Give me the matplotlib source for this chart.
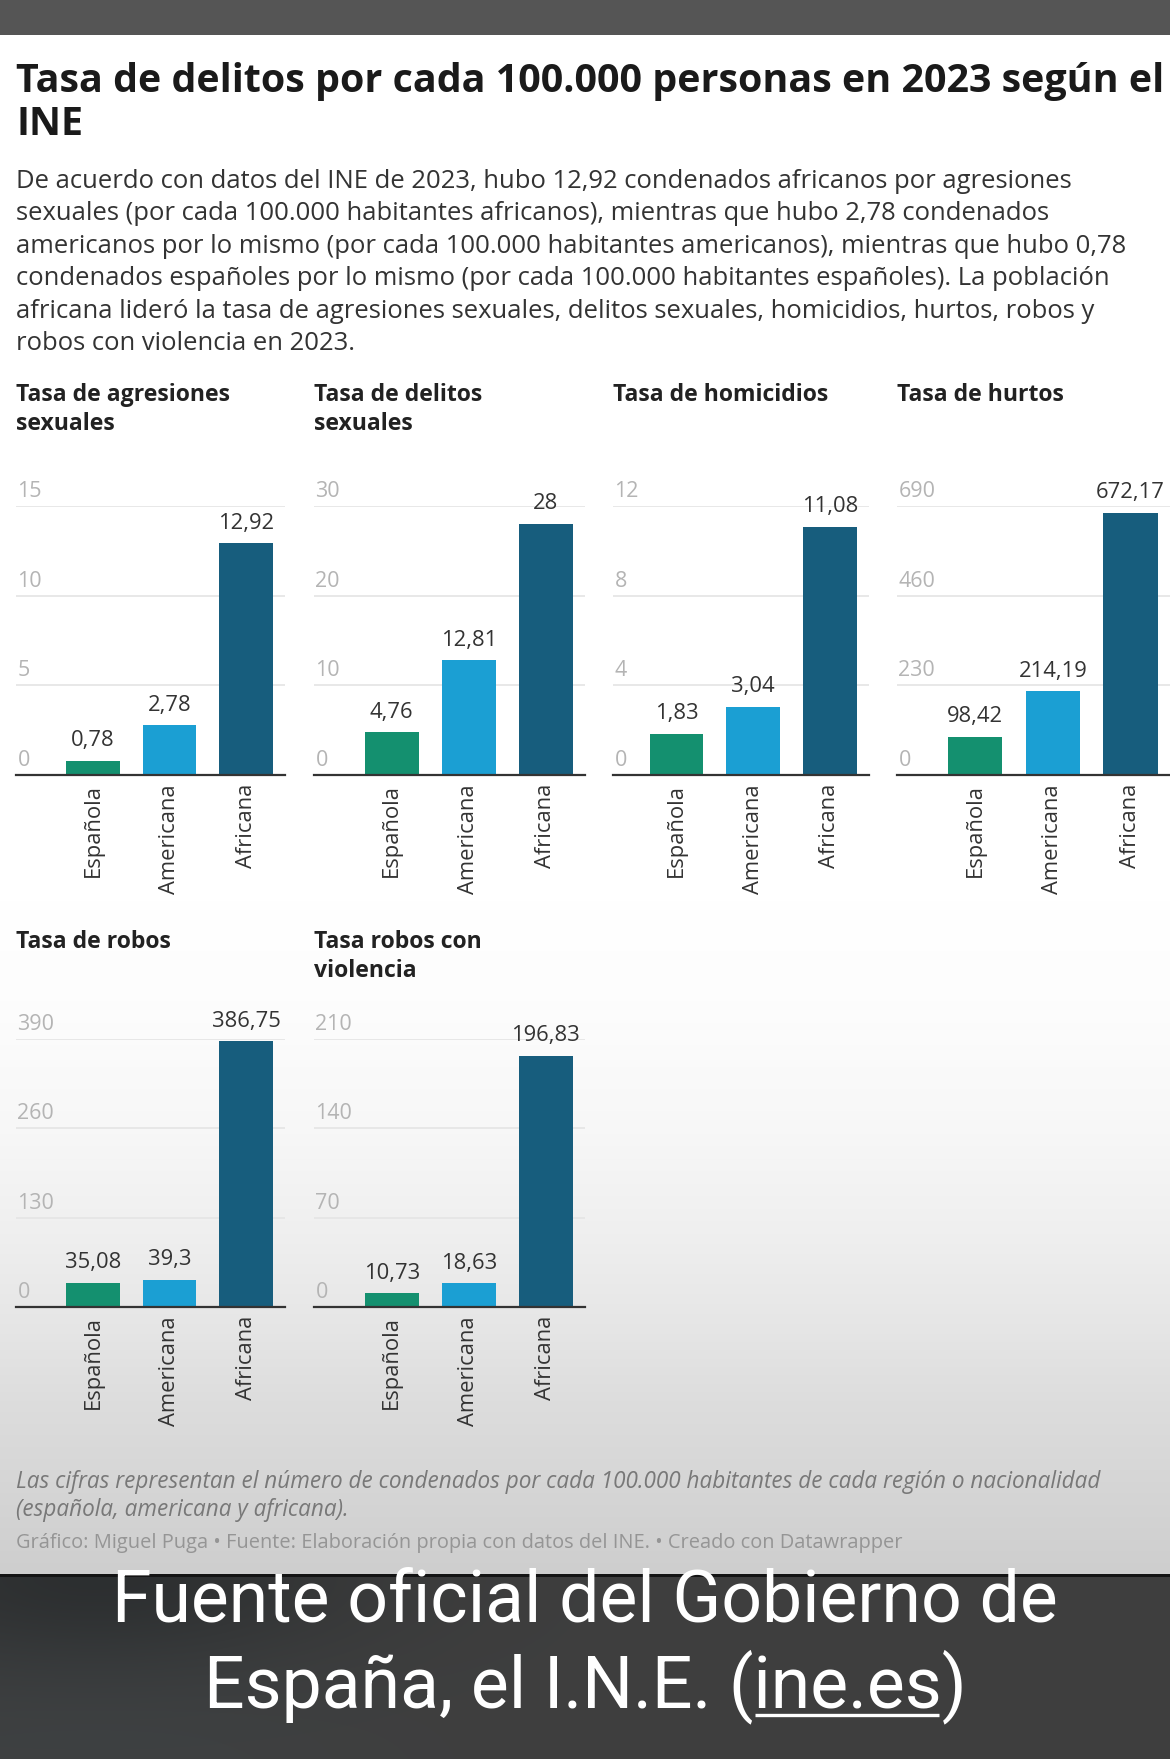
import numpy as np
import matplotlib
matplotlib.use("Agg")
import matplotlib.pyplot as plt

# ---------------------------------------------------------------------------
# Data
# ---------------------------------------------------------------------------

categories = ["Española", "Americana", "Africana"]

agresiones_sexuales = [0.78, 2.78, 12.92]
delitos_sexuales = [4.76, 12.81, 28]
homicidios = [1.83, 3.04, 11.08]
hurtos = [98.42, 214.19, 672.17]
robos = [35.08, 39.3, 386.75]
robos_violencia = [10.73, 18.63, 196.83]

panel_titles = [
    ["Tasa de agresiones", "sexuales"],
    ["Tasa de delitos", "sexuales"],
    ["Tasa de homicidios"],
    ["Tasa de hurtos"],
    ["Tasa de robos"],
    ["Tasa robos con", "violencia"],
]
panel_values = [agresiones_sexuales, delitos_sexuales, homicidios, hurtos,
                robos, robos_violencia]
axis_max = [15, 30, 12, 690, 390, 210]

title_lines = ["Tasa de delitos por cada 100.000 personas en 2023 según el", "INE"]
subtitle_lines = [
    "De acuerdo con datos del INE de 2023, hubo 12,92 condenados africanos por agresiones",
    "sexuales (por cada 100.000 habitantes africanos), mientras que hubo 2,78 condenados",
    "americanos por lo mismo (por cada 100.000 habitantes americanos), mientras que hubo 0,78",
    "condenados españoles por lo mismo (por cada 100.000 habitantes españoles). La población",
    "africana lideró la tasa de agresiones sexuales, delitos sexuales, homicidios, hurtos, robos y",
    "robos con violencia en 2023.",
]
notes_lines = [
    "Las cifras representan el número de condenados por cada 100.000 habitantes de cada región o nacionalidad",
    "(española, americana y africana).",
]
source_line = "Gráfico: Miguel Puga • Fuente: Elaboración propia con datos del INE. • Creado con Datawrapper"
caption_lines = ["Fuente oficial del Gobierno de", "España, el I.N.E. (", "ine.es", ")"]

# ---------------------------------------------------------------------------
# Layout (pixels)
# ---------------------------------------------------------------------------

W, H = 1170, 1759
BAR_COLORS = ["#14906f", "#1b9fd3", "#175d7d"]
FONT = "Open Sans"
CAPTION_FONT = "Roboto"

plt.rcParams["font.family"] = [FONT, "DejaVu Sans"]


def fx(x):
    return x / W


def fy(y):
    return 1 - y / H


def fmt(v):
    return f"{v:g}".replace(".", ",")


fig = plt.figure(figsize=(W / 100, H / 100), dpi=100)
renderer = fig.canvas.get_renderer()


def fit_size(text, width, **kw):
    """Font size (pt) that makes `text` about `width` pixels wide."""
    t = fig.text(0, 0, text, fontsize=20, **kw)
    w = t.get_window_extent(renderer).width
    t.remove()
    return 20 * width / w


# background: top bar, white page fading to grey, dark caption strip
bg = fig.add_axes([0, 0, 1, 1], zorder=-10)
rows = np.arange(H)
grey = np.interp(rows, [0, 900, 1000, 1133, 1233, 1333, 1400, 1574],
                 [255, 255, 253, 247, 239, 229, 221, 206]) / 255.0
img = np.repeat(grey[:, None], W, axis=1)
img = np.dstack([img, img, img])
img[:35] = 0x55 / 255.0
xx = np.linspace(0, 1, W)[None, :]
yy = np.linspace(0, 1, H - 1576)[:, None]
glow = np.exp(-((xx - 0.08) ** 2) / 0.05)
dark = 0.245 - 0.07 * np.exp(-((xx - 0.08) ** 2) / 0.05 - (yy ** 2) / 0.25)
img[1576:, :, 0] = dark
img[1576:, :, 1] = dark + 0.01 * glow
img[1576:, :, 2] = dark + 0.015 * glow
img[1574:1577] = 0.08
bg.imshow(img, aspect="auto", extent=(0, W, H, 0), interpolation="bilinear")
bg.set_xlim(0, W)
bg.set_ylim(H, 0)
bg.axis("off")

# ---------------------------------------------------------------------------
# Header text
# ---------------------------------------------------------------------------

size = fit_size(title_lines[0], 1149, fontweight="bold")
for line, y in zip(title_lines, [92, 135]):
    fig.text(fx(16), fy(y), line, fontsize=size, fontweight="bold",
             color="#1a1a1a", va="baseline", ha="left")

size = fit_size(subtitle_lines[2], 1107)
for i, line in enumerate(subtitle_lines):
    fig.text(fx(16), fy(188 + 32.4 * i), line, fontsize=size,
             color="#333333", va="baseline", ha="left")

# ---------------------------------------------------------------------------
# Panels
# ---------------------------------------------------------------------------

# (left, right, zero line, top gridline, x-limit left, title baseline)
panel_boxes = [
    (16, 285, 775, 506, -1.01, 401),
    (314, 585, 775, 506, -1.01, 401),
    (613, 869, 775, 506, -0.83, 401),
    (897, 1170, 775, 506, -1.01, 401),
    (16, 285, 1307, 1039, -1.01, 948),
    (314, 585, 1307, 1039, -1.01, 948),
]

x = np.arange(len(categories))
head_size = fit_size(panel_titles[0][0], 214, fontweight="bold")

for title, values, ymax, box in zip(panel_titles, panel_values, axis_max, panel_boxes):
    left, right, zero, top, xl, ty = box
    for j, line in enumerate(title):
        fig.text(fx(left), fy(ty + 29 * j), line, fontsize=head_size,
                 fontweight="bold", color="#222222", va="baseline", ha="left")

    ax = fig.add_axes([fx(left), fy(zero), (right - left) / W, (zero - top) / H])
    ax.patch.set_alpha(0)
    ax.bar(x, values, width=0.7, color=BAR_COLORS, zorder=2)
    ax.set_xlim(xl, 2.51)
    ax.set_ylim(0, ymax)

    ticks = [0, ymax // 3, 2 * ymax // 3, ymax]
    ax.set_yticks(ticks)
    ax.yaxis.grid(True, color="#e4e4e4", linewidth=1.2, zorder=0)
    ax.set_axisbelow(True)
    ax.tick_params(axis="y", left=False, labelleft=False)
    for t in ticks:
        ax.annotate(str(t), xy=(0, t), xycoords=("axes fraction", "data"),
                    xytext=(1, 6.5), textcoords="offset points",
                    ha="left", va="baseline", fontsize=15.5, color="#b4b4b4",
                    annotation_clip=False)

    for i, v in enumerate(values):
        ax.annotate(fmt(v), xy=(i, v), xytext=(0, 10.5), textcoords="offset points",
                    ha="center", va="baseline", fontsize=15.8, color="#333333",
                    annotation_clip=False)

    ax.set_xticks(x, categories, rotation=90, fontsize=15.8, color="#333333")
    ax.tick_params(axis="x", length=0, pad=6.5)
    for side in ["top", "right", "left"]:
        ax.spines[side].set_visible(False)
    ax.spines["bottom"].set_color("#333333")
    ax.spines["bottom"].set_linewidth(1.6)
    ax.spines["bottom"].set_zorder(3)

# ---------------------------------------------------------------------------
# Notes, source and caption
# ---------------------------------------------------------------------------

size = fit_size(notes_lines[0], 1087, style="italic")
for line, y in zip(notes_lines, [1488, 1516]):
    fig.text(fx(16), fy(y), line, fontsize=size, style="italic",
             color="#787878", va="baseline", ha="left")

size = fit_size(source_line, 885)
fig.text(fx(16), fy(1548), source_line, fontsize=size, color="#959595",
         va="baseline", ha="left")

cap = fit_size(caption_lines[0], 944, family=CAPTION_FONT)
fig.text(0.5, fy(1622), caption_lines[0], fontsize=cap, color="white",
         family=CAPTION_FONT, va="baseline", ha="center")

# second caption line, with "ine.es" underlined
line2 = "".join(caption_lines[1:])
t2 = fig.text(0.5, fy(1707), line2, fontsize=cap, color="white",
              family=CAPTION_FONT, va="baseline", ha="center")
full = t2.get_window_extent(renderer)
tmp = fig.text(0, 0, caption_lines[1], fontsize=cap, family=CAPTION_FONT)
pre_w = tmp.get_window_extent(renderer).width
tmp.set_text(caption_lines[2])
link_w = tmp.get_window_extent(renderer).width
tmp.remove()
x0 = full.x0 + pre_w
bg.plot([x0 + 2, x0 + link_w - 2], [1715, 1715], color="white", linewidth=2.4,
        solid_capstyle="butt")

fig.savefig("out.png", dpi=100)
